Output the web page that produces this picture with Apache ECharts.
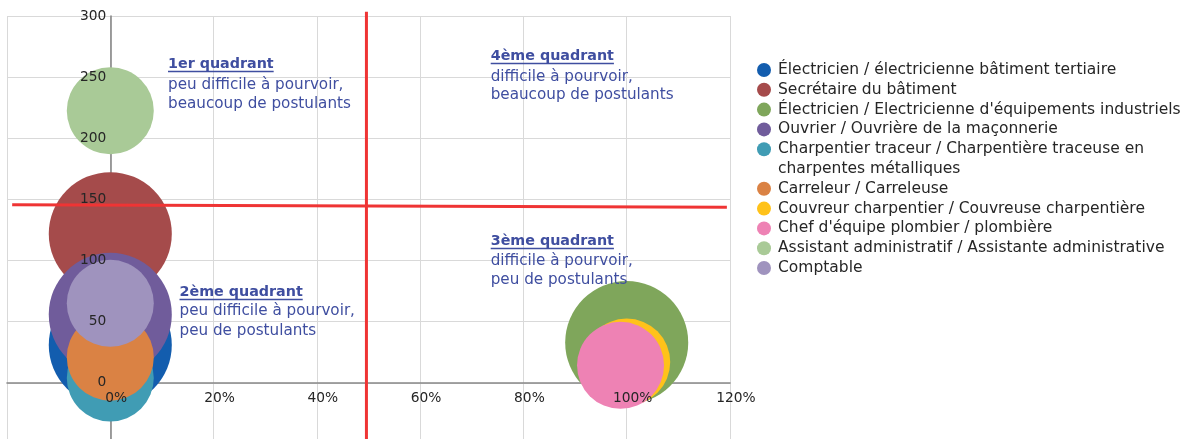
<!DOCTYPE html>
<html>
<head>
<meta charset="utf-8">
<script src="https://cdn.jsdelivr.net/npm/echarts@6/dist/echarts.min.js"></script>
<style>
html,body{margin:0;padding:0;overflow:hidden;background:#fff;}
#chart{width:1197px;height:460px;}
</style>
</head>
<body>
<div id="chart"></div>
<script>
// ---- data ----
const categories = [
  "Électricien / électricienne bâtiment tertiaire",
  "Secrétaire du bâtiment",
  "Électricien / Electricienne d'équipements industriels",
  "Ouvrier / Ouvrière de la maçonnerie",
  "Charpentier traceur / Charpentière traceuse en charpentes métalliques",
  "Carreleur / Carreleuse",
  "Couvreur charpentier / Couvreuse charpentière",
  "Chef d'équipe plombier / plombière",
  "Assistant administratif / Assistante administrative",
  "Comptable"
];
const colors = ["#135DAE","#A54B4B","#7FA65B","#705C9B","#409CB4","#DA8244","#FFC21A","#EE82B4","#A9CA97","#9F93BE"];
const xValues = [0, 0, 100, 0, 0, 0, 100, 98.8, 0, 0];          // % difficile à pourvoir
const yValues = [31, 122, 33, 56, 4, 21, 17, 14.3, 222.5, 65];  // postulants
const sizeValues = [2, 2, 2, 2, 1, 1, 1, 1, 1, 1];
const xAxisMin = -20, xAxisMax = 120, xAxisStep = 20;
const yAxisMin = -50, yAxisMax = 300, yAxisStep = 50;
const quadrantTitles = ["1er quadrant", "2ème quadrant", "4ème quadrant", "3ème quadrant"];
const quadrantLines = [
  ["peu difficile à pourvoir,", "beaucoup de postulants"],
  ["peu difficile à pourvoir,", "peu de postulants"],
  ["difficile à pourvoir,", "beaucoup de postulants"],
  ["difficile à pourvoir,", "peu de postulants"]
];
const thresholdX = 49.6;
const thresholdYLine = [[-19, 145.6], [119.4, 143.7]];

// ---- layout / styles ----
const FONT = '"DejaVu Sans", Verdana, sans-serif';
const qColor = '#3F4EA0';
const quadrantPos = [ // [x, titleY, line1Y, line2Y]
  [168, 64.3, 85.5, 103.8],
  [179.5, 292.3, 311.2, 330.8],
  [490.7, 56.2, 76.7, 95.2],
  [490.7, 241.3, 260.8, 280]
];
const measure = (() => {
  const c = document.createElement('canvas').getContext('2d');
  return (t, f) => { c.font = f; return c.measureText(t).width; };
})();

const graphics = [];
quadrantTitles.forEach((t, i) => {
  const p = quadrantPos[i];
  const tf = 'bold 14.3px ' + FONT;
  graphics.push({type:'text', z:20, style:{text:t, x:p[0], y:p[1], fill:qColor, font:tf, verticalAlign:'middle', align:'left'}});
  const w = measure(t, tf);
  graphics.push({type:'line', z:20, shape:{x1:p[0], y1:p[1]+7.3, x2:p[0]+w, y2:p[1]+7.3}, style:{stroke:qColor, lineWidth:1.5}});
  quadrantLines[i].forEach((l, j) => {
    graphics.push({type:'text', z:20, style:{text:l, x:p[0], y:p[2+j], fill:qColor, font:'15.2px ' + FONT, verticalAlign:'middle', align:'left'}});
  });
});

const bubbleSeries = categories.map((name, i) => ({
  name: name,
  type: 'scatter',
  xAxisIndex: 0, yAxisIndex: 0,
  data: [[xValues[i], yValues[i], sizeValues[i]]],
  symbol: 'circle',
  symbolSize: d => 87 * Math.sqrt(d[2]),
  itemStyle: {color: colors[i], opacity: 1},
  emphasis: {disabled: true},
  z: 2
}));
const redStyle = {color:'#EF3434', width:3};
const lineSeries = [
  {type:'line', name:'seuilX', data:[[thresholdX, 303.5],[thresholdX, yAxisMin]], clip:false, symbol:'none', lineStyle:redStyle, silent:true, z:5},
  {type:'line', name:'seuilY', data:thresholdYLine, clip:false, symbol:'none', lineStyle:redStyle, silent:true, z:5}
];

const legendText = {fontFamily: FONT, fontSize: 15.5, color: '#262626', lineHeight: 19.8};
const legendCommon = {orient:'vertical', left:752, padding:5, itemGap:0, itemWidth:18, itemHeight:14, icon:'circle', textStyle:legendText, selectedMode:false};

const xLabel = {fontFamily: FONT, fontSize: 13.8, color: '#262626', margin: 9, padding:[0,0,0,12],
  formatter: v => v < 0 ? '' : v + '%'};
const yLabel = {fontFamily: FONT, fontSize: 13.8, color: '#262626', margin: 4,
  formatter: v => v < 0 ? '' : String(v)};
const gridBox = {left: 7, right: 467, top: 16, bottom: 16, containLabel: false, outerBoundsMode: 'none'};

const option = {
  animation: false,
  grid: [Object.assign({}, gridBox), Object.assign({}, gridBox)],
  xAxis: [
    {type:'value', gridIndex:0, min:xAxisMin, max:xAxisMax, interval:xAxisStep, z:0,
     axisLine:{show:true, onZero:true, lineStyle:{color:'#888', width:1.6}},
     axisTick:{show:false}, axisLabel:{show:false},
     splitLine:{show:true, lineStyle:{color:'#D9D9D9', width:1}}},
    {type:'value', gridIndex:1, min:xAxisMin, max:xAxisMax, interval:xAxisStep, z:10, position:'bottom', offset:0,
     axisLine:{show:false, onZero:false},
     axisTick:{show:false}, axisLabel:xLabel, splitLine:{show:false}}
  ],
  yAxis: [
    {type:'value', gridIndex:0, min:yAxisMin, max:yAxisMax, interval:yAxisStep, z:0,
     axisLine:{show:true, onZero:true, lineStyle:{color:'#888', width:1.6}},
     axisTick:{show:false}, axisLabel:{show:false},
     splitLine:{show:true, lineStyle:{color:'#D9D9D9', width:1}}},
    {type:'value', gridIndex:1, min:yAxisMin, max:yAxisMax, interval:yAxisStep, z:10, position:'left', offset:0,
     axisLine:{show:false, onZero:false},
     axisTick:{show:false}, axisLabel:yLabel, splitLine:{show:false}}
  ],
  legend: [
    Object.assign({}, legendCommon, {top: 55.1, data: categories.slice(0, 4)}),
    Object.assign({}, legendCommon, {top: 114.5, data: categories.slice(4),
      formatter: n => n === categories[4] ? '\nCharpentier traceur / Charpentière traceuse en\ncharpentes métalliques' : n})
  ],
  graphic: graphics,
  series: bubbleSeries.concat(lineSeries)
};
const chart = echarts.init(document.getElementById('chart'), null, {renderer:'canvas'});
chart.setOption(option);
// place the label-only axes on the origin of the main axes (label layer drawn above bubbles)
const origin = chart.convertToPixel({xAxisIndex:0, yAxisIndex:0}, [0, 0]);
const corner = chart.convertToPixel({xAxisIndex:0, yAxisIndex:0}, [xAxisMin, yAxisMin]);
chart.setOption({
  xAxis: [{}, {offset: -(corner[1] - origin[1])}],
  yAxis: [{}, {offset: -(origin[0] - corner[0])}]
});
</script>
</body>
</html>
